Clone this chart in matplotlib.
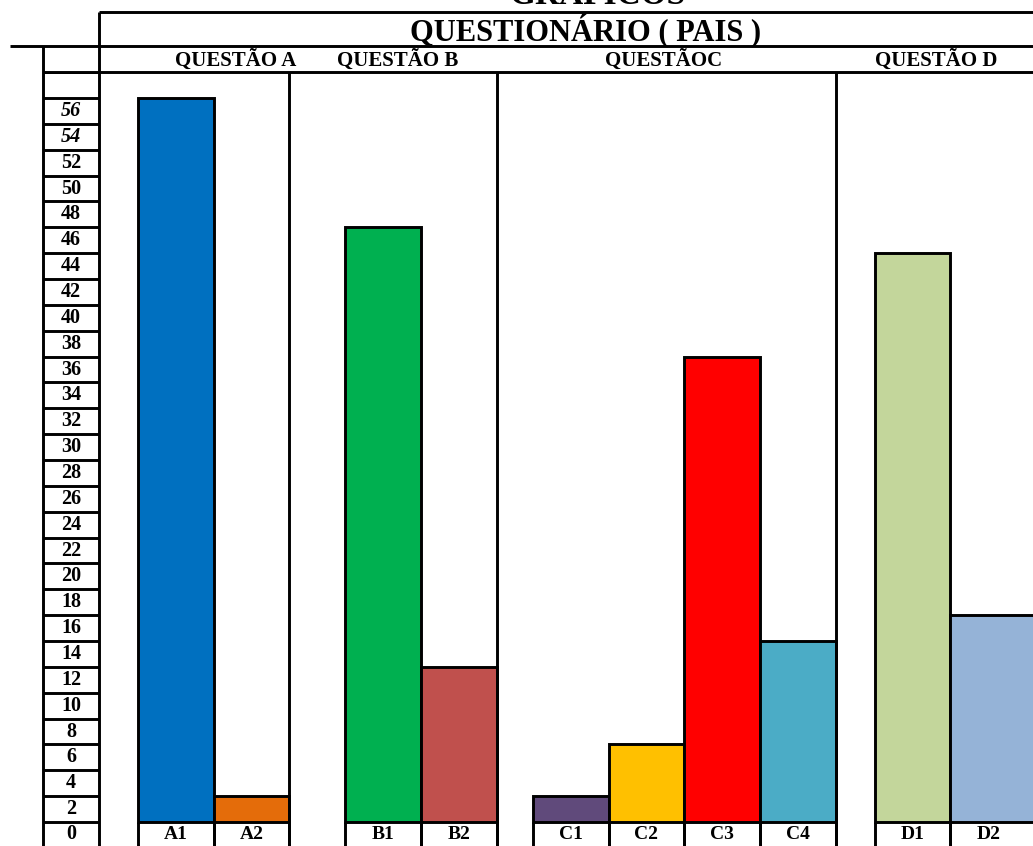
import matplotlib
matplotlib.use('Agg')
import matplotlib.pyplot as plt

# ---------------- data ----------------
supertitle = 'GRÁFICOS'
title = 'QUESTIONÁRIO ( PAIS )'
groups = ['QUESTÃO A', 'QUESTÃO B', 'QUESTÃOC', 'QUESTÃO D']
categories = [['A1', 'A2'], ['B1', 'B2'], ['C1', 'C2', 'C3', 'C4'], ['D1', 'D2']]
values = [[56, 2], [46, 12], [2, 6, 36, 14], [44, 16]]
colors = [['#0070C0', '#E46C0A'],
          ['#00B050', '#C0504D'],
          ['#604A7B', '#FFC000', '#FF0000', '#4BACC6'],
          ['#C3D69B', '#95B3D7']]
tick_values = list(range(0, 57, 2))
italic_ticks = [54, 56]

# ---------------- layout ----------------
W, H = 1033, 846
FONT = 'Liberation Serif'
LW = 2.1
fig = plt.figure(figsize=(W / 100, H / 100), dpi=100)

UNIT_Y = 25.857 / 2          # px per value unit
Y_BASE = 822                 # px of value 0 (from top)
Y_TOP = 72                   # px of top of plot area
ymax = (Y_BASE - Y_TOP) / UNIT_Y
ymin = -(H - Y_BASE) / UNIT_Y

BAR_PX = 75.7
XMAX = 13.0
gaps = [0.515, 0.74, 0.476, 0.515]
widths = [[1, 1], [1, 1], [1, 1, 1, 1], [1, 1.3]]
group_label_x = [236, 398, 664, 936]

ax = fig.add_axes([99 / W, 0, XMAX * BAR_PX / W, (H - Y_TOP) / H])
ax.set_xlim(0, XMAX)
ax.set_ylim(ymin, ymax)
ax.axis('off')

x = 0.0
edges = []
group_right = []
for gi, (cats, vals, cols, ws) in enumerate(zip(categories, values, colors, widths)):
    x += gaps[gi]
    for c, v, col, w in zip(cats, vals, cols, ws):
        ax.bar(x, v, width=w, align='edge', color=col, edgecolor='black',
               linewidth=LW, zorder=3)
        ax.text(x + 0.5, ymin / 2, c, ha='center', va='center',
                fontsize=14, fontweight='bold', family=FONT)
        edges.extend([x, x + w])
        x += w
    group_right.append(x)

ax.vlines(edges, ymin, 0, colors='black', linewidth=LW, zorder=4)
ax.vlines(group_right[:-1], ymin, ymax, colors='black', linewidth=LW, zorder=4)

# tick label column
axt = fig.add_axes([43 / W, 0, (99 - 43) / W, (H - Y_TOP) / H], sharey=ax)
axt.set_xlim(0, 1)
axt.axis('off')
for v in tick_values + [tick_values[-1] + 2]:
    axt.axhline(v, color='black', linewidth=LW)
for v in tick_values:
    yc = v - 1 if v > 0 else ymin / 2
    axt.text(0.5, yc, str(v), ha='center', va='center', fontsize=14.5,
             fontweight='bold', family=FONT,
             fontstyle='italic' if v in italic_ticks else 'normal')

# overlay for table frame and headers
axo = fig.add_axes([0, 0, 1, 1], zorder=10)
axo.set_xlim(0, W)
axo.set_ylim(H, 0)
axo.axis('off')
axo.patch.set_alpha(0)
axo.hlines(12, 99, W, colors='black', linewidth=LW)
axo.hlines(46, 10, W, colors='black', linewidth=LW)
axo.hlines(72, 43, W, colors='black', linewidth=LW)
axo.vlines(99, 12, H, colors='black', linewidth=LW)
axo.vlines(43, 46, H, colors='black', linewidth=LW)

axo.text(597, 4, supertitle, ha='center', va='baseline', fontsize=24,
         fontweight='bold', family=FONT)
axo.text(586, 41, title, ha='center', va='baseline', fontsize=22,
         fontweight='bold', family=FONT)
for g, gx in zip(groups, group_label_x):
    axo.text(gx, 66, g, ha='center', va='baseline', fontsize=15,
             fontweight='bold', family=FONT)

fig.savefig('out.png', dpi=100)
